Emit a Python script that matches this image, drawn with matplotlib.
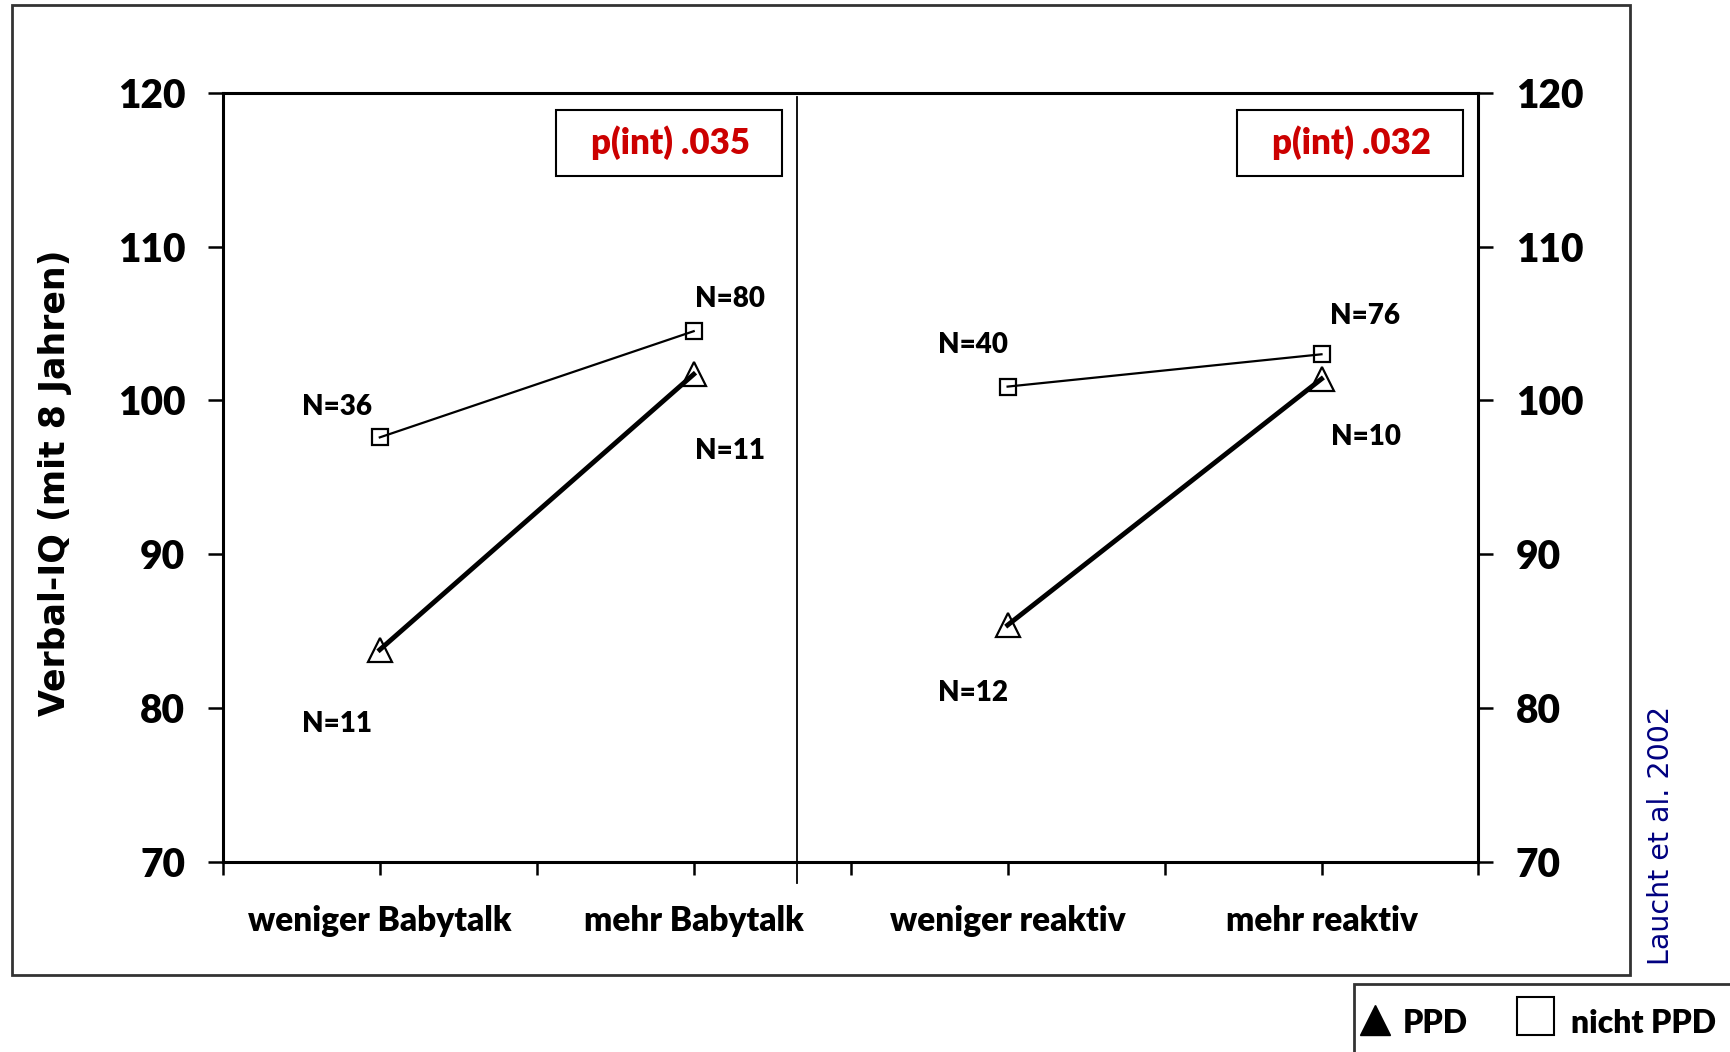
import matplotlib.pyplot as plt
from matplotlib.patches import Rectangle
from matplotlib.lines import Line2D

# Daten: Verbal-IQ mit 8 Jahren
kategorien = ["weniger Babytalk", "mehr Babytalk", "weniger reaktiv", "mehr reaktiv"]
x_pos = [1, 3, 5, 7]
nicht_ppd_babytalk = [97.6, 104.5]
ppd_babytalk = [83.8, 101.7]
nicht_ppd_reaktiv = [100.9, 103.0]
ppd_reaktiv = [85.4, 101.4]
n_labels = ["N=36", "N=80", "N=11", "N=11", "N=40", "N=76", "N=10", "N=12"]
n_x = [0.73, 3.23, 3.23, 0.73, 4.78, 7.28, 7.28, 4.78]
n_y = [99.6, 106.6, 96.7, 79.0, 103.6, 105.5, 97.65, 81.0]
p_werte = ["p(int) .035", "p(int) .032"]

plt.rcParams["font.family"] = ["Lato", "DejaVu Sans"]
W = "heavy"

fig = plt.figure(figsize=(17.3, 10.52), dpi=100)
ax = fig.add_axes([0.1288, 0.1805, 0.7258, 0.7314])

# nicht PPD: duenne Linie, Quadrate
ax.plot(x_pos[:2], nicht_ppd_babytalk, color="black", lw=1.6, marker="s",
        ms=11, mfc="none", mec="black", mew=1.6)
ax.plot(x_pos[2:], nicht_ppd_reaktiv, color="black", lw=1.6, marker="s",
        ms=11, mfc="none", mec="black", mew=1.6)
# PPD: dicke Linie, Dreiecke
ax.plot(x_pos[:2], ppd_babytalk, color="black", lw=3.5, marker="^",
        ms=17, mfc="none", mec="black", mew=1.6)
ax.plot(x_pos[2:], ppd_reaktiv, color="black", lw=3.5, marker="^",
        ms=17, mfc="none", mec="black", mew=1.6)

for t, xx, yy in zip(n_labels, n_x, n_y):
    ax.text(xx, yy, t, fontsize=20, fontweight=W, ha="center", va="center")

# p-Werte in Kaesten
for x0, xx, t in zip([2.123, 6.46], [2.85, 7.19], p_werte):
    ax.add_patch(Rectangle((x0, 114.56), 1.44, 4.29, fill=False, ec="black", lw=1.5))
    ax.text(xx, 116.75, t, fontsize=25, fontweight=W, color="#cc0000",
            ha="center", va="center")

# Trennlinie
ax.plot([3.66, 3.66], [-0.027, 0.995], color="black", lw=1.3,
        transform=ax.get_xaxis_transform(), clip_on=False)

ax.set_xlim(0, 8)
ax.set_ylim(70, 120)
ax.set_yticks([70, 80, 90, 100, 110, 120])
ax.set_xticks(range(9))
ax.set_xticklabels(["", kategorien[0], "", kategorien[1], "", kategorien[2], "",
                    kategorien[3], ""])
ax.tick_params(axis="x", direction="out", length=9, width=1.8, labelsize=24, pad=22)
ax.tick_params(axis="y", direction="out", length=11, width=1.8, labelsize=28, pad=16,
               right=True, labelright=True)
for lab in ax.get_xticklabels() + ax.get_yticklabels():
    lab.set_fontweight(W)
for s in ax.spines.values():
    s.set_linewidth(2.2)

fig.text(0.032, 0.541, "Verbal-IQ (mit 8 Jahren)", rotation=90, fontsize=25,
         fontweight="bold", family="DejaVu Sans", ha="center", va="center")
fig.text(0.96, 0.2057, "Laucht et al. 2002", rotation=90, fontsize=20.5,
         fontweight="normal", family="DejaVu Sans",
         color="#000080", ha="center", va="center")

# Rahmen aussen
fig.add_artist(Rectangle((0.007, 0.0735), 0.935, 0.9213, transform=fig.transFigure,
                         fill=False, ec="#333333", lw=2))
# Legende unten rechts
fig.add_artist(Rectangle((0.7825, -0.02), 0.25, 0.085, transform=fig.transFigure,
                         fill=False, ec="#333333", lw=2))
fig.add_artist(Line2D([0.795], [0.030], marker="^", ms=21, color="black",
                      transform=fig.transFigure))
fig.text(0.811, 0.027, "PPD", fontsize=23, fontweight=W, va="center")
fig.add_artist(Rectangle((0.877, 0.016), 0.0215, 0.0367, transform=fig.transFigure,
                         fill=False, ec="black", lw=1.5))
fig.text(0.908, 0.027, "nicht PPD", fontsize=23, fontweight=W, va="center")

fig.savefig("out.png", dpi=100)
